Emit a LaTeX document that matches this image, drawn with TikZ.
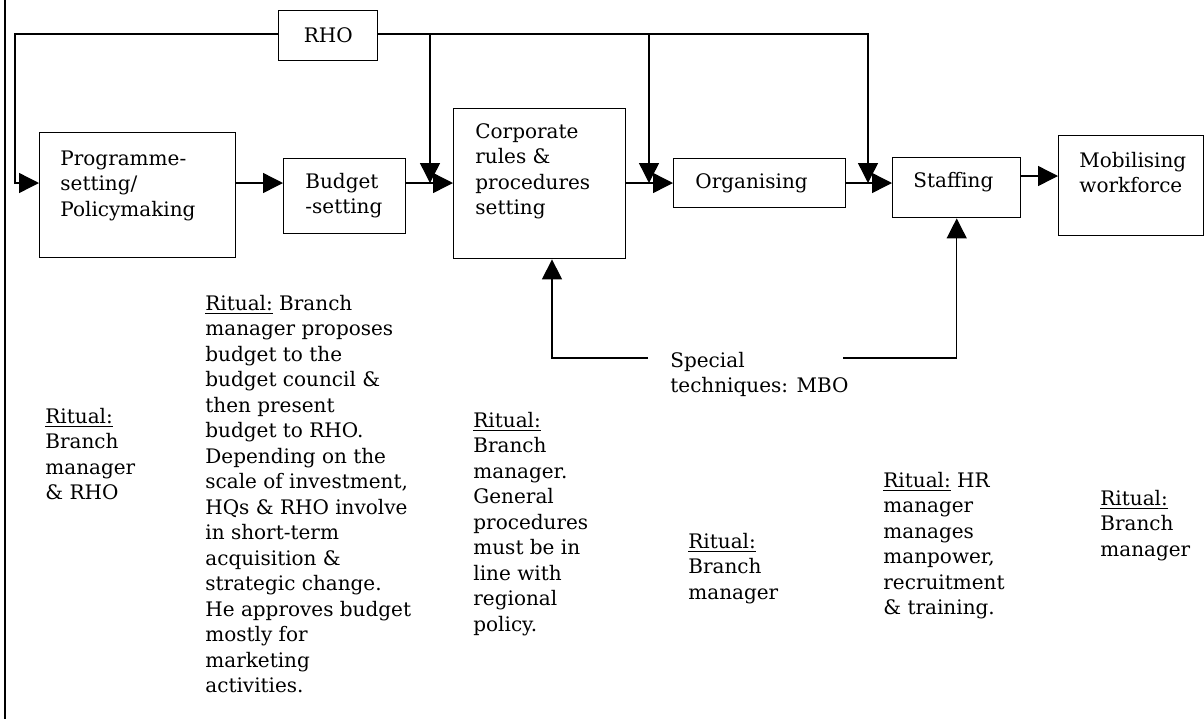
\documentclass[tikz,border=0pt]{standalone}
\usepackage{fontspec}
\setmainfont{DejaVu Serif}
\usetikzlibrary{arrows.meta}
\begin{document}
\begin{tikzpicture}[x=0.5pt,y=-0.5pt,
  every node/.style={font=\fontsize{10}{12.75}\selectfont},
  procbox/.style={draw, line width=0.7pt, inner sep=0, anchor=north west},
  lbl/.style={anchor=north west, inner sep=0, align=left},
  wire/.style={line width=0.7pt},
  flow/.style={wire, -{Triangle[length=10pt,width=10pt]}},
]
\useasboundingbox (0,0) rectangle (1204,719);

% page rule on the left
\draw[wire] (5,0) -- (5,719);

% process boxes
\node[procbox, minimum width=49.5pt, minimum height=25pt] (rho) at (278,10) {RHO};
\node[procbox, minimum width=98pt,   minimum height=62.5pt] (prog)   at (39,132)  {};
\node[procbox, minimum width=61pt,   minimum height=37.5pt] (budget) at (283,158) {};
\node[procbox, minimum width=86pt,   minimum height=75pt]   (corp)   at (453,108) {};
\node[procbox, minimum width=86pt,   minimum height=24.5pt] (org)    at (673,158) {};
\node[procbox, minimum width=64pt,   minimum height=30pt]   (staff)  at (892,157) {};
\node[procbox, minimum width=72.5pt, minimum height=50pt]   (mob)    at (1058,135) {};

% box captions
\node[lbl] (progT)   at (60,147)   {\strut Programme-\\setting/\\Policymaking};
\node[lbl] (budgetT) at (305,170)  {\strut Budget\\-setting};
\node[lbl] (corpT)   at (475,120)  {\strut Corporate\\rules \&\\procedures\\setting};
\node[lbl] (orgT)    at (695,170)  {\strut Organising};
\node[lbl] (staffT)  at (913,169)  {\strut Staffing};
\node[lbl] (mobT)    at (1079,149) {\strut Mobilising\\workforce};

% support input
\node[lbl] (mbo) at (670,349) {\strut Special\\techniques: MBO};

% rituals under each stage
\node[lbl] (r1) at (45,405)  {\strut\underline{Ritual:}\\Branch\\manager\\\& RHO};
\node[lbl] (r2) at (205,292) {\strut\underline{Ritual:} Branch\\manager proposes\\budget to the\\budget council \&\\then present\\budget to RHO.\\Depending on the\\scale of investment,\\HQs \& RHO involve\\in short-term\\acquisition \&\\strategic change.\\He approves budget\\mostly for\\marketing\\activities.};
\node[lbl] (r3) at (473,409) {\strut\underline{Ritual:}\\Branch\\manager.\\General\\procedures\\must be in\\line with\\regional\\policy.};
\node[lbl] (r4) at (688,530) {\strut\underline{Ritual:}\\Branch\\manager};
\node[lbl] (r5) at (883,469) {\strut\underline{Ritual:} HR\\manager\\manages\\manpower,\\recruitment\\\& training.};
\node[lbl] (r6) at (1100,487) {\strut\underline{Ritual:}\\Branch\\manager};

% routing lanes
\coordinate (top)   at (0,34);
\coordinate (lane)  at (0,183);
\coordinate (lane2) at (0,176);
\coordinate (fbk)   at (15,0);
\coordinate (d1)    at (430,0);
\coordinate (d2)    at (649,0);
\coordinate (d3)    at (868,0);
\coordinate (c1)    at (552,0);
\coordinate (mboL)  at (648,358);
\coordinate (mboR)  at (843,358);

% RHO feedback into the first stage
\draw[flow] (rho.west |- top) -| (fbk |- lane) -- (prog.west |- lane);

% RHO bus dropping onto the main flow
\draw[flow] (rho.east |- top) -| (d3 |- lane);
\draw[flow] (d1 |- top) -- (d1 |- lane);
\draw[flow] (d2 |- top) -- (d2 |- lane);

% main flow
\draw[flow] (prog.east |- lane)   -- (budget.west |- lane);
\draw[flow] (budget.east |- lane) -- (corp.west |- lane);
\draw[flow] (corp.east |- lane)   -- (org.west |- lane);
\draw[flow] (org.east |- lane)    -- (staff.west |- lane);
\draw[flow] (staff.east |- lane2) -- (mob.west |- lane2);

% special techniques
\draw[flow] (mboL) -| (c1 |- corp.south);
\draw[flow] (mboR) -| (staff.south);
\end{tikzpicture}
\end{document}
